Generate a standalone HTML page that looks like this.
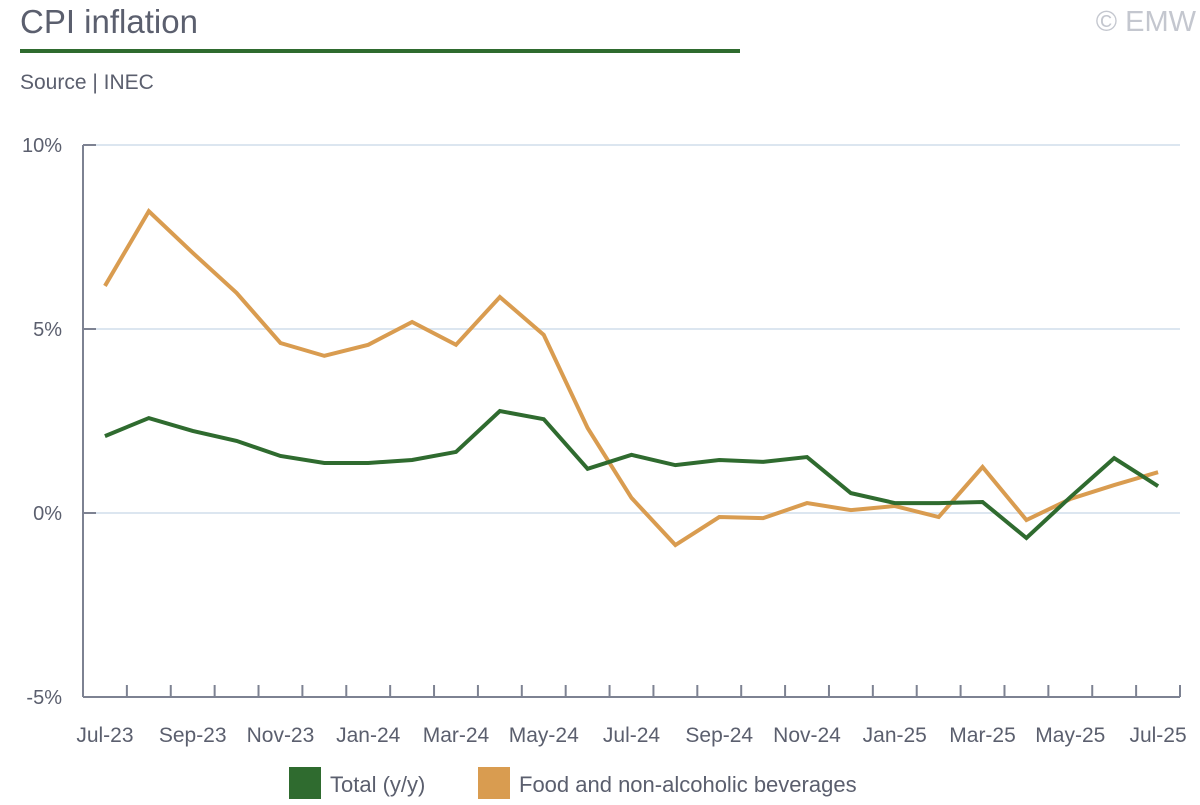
<!DOCTYPE html>
<html><head><meta charset="utf-8"><style>
body{margin:0;background:#fff;font-family:"Liberation Sans",sans-serif;}
svg text{font-family:"Liberation Sans",sans-serif;}
</style></head><body>
<svg id="c" width="1200" height="800" viewBox="0 0 1200 800">
<text x="20" y="33" font-size="33" fill="#5b5f6e">CPI inflation</text>
<rect x="20" y="49" width="720" height="4" fill="#2f6b2f"/>
<text x="20" y="89" font-size="21" fill="#5b5f6e">Source | INEC</text>
<text x="1196" y="31" font-size="29" fill="#c4c7cf" text-anchor="end">© EMW</text>
<g id="grid"></g><g id="axes"></g><g id="series"></g>
<g>
<rect x="289" y="767" width="32" height="32" fill="#2f6b2f"/>
<text x="330" y="792" font-size="22" fill="#5b5f6e">Total (y/y)</text>
<rect x="478" y="767" width="32" height="32" fill="#d99c50"/>
<text x="519" y="792" font-size="22" fill="#5b5f6e">Food and non-alcoholic beverages</text>
</g>
</svg>
<script>
const months=["Jul-23","Aug-23","Sep-23","Oct-23","Nov-23","Dec-23","Jan-24","Feb-24","Mar-24","Apr-24","May-24","Jun-24","Jul-24","Aug-24","Sep-24","Oct-24","Nov-24","Dec-24","Jan-25","Feb-25","Mar-25","Apr-25","May-25","Jun-25","Jul-25"];
const totalValues=[2.09,2.58,2.23,1.96,1.55,1.36,1.36,1.44,1.66,2.77,2.55,1.2,1.58,1.3,1.44,1.39,1.52,0.54,0.27,0.27,0.3,-0.68,0.43,1.49,0.73];
const foodValues=[6.17,8.2,7.07,5.98,4.62,4.27,4.57,5.19,4.57,5.87,4.84,2.31,0.41,-0.87,-0.11,-0.14,0.27,0.08,0.19,-0.11,1.25,-0.19,0.38,0.76,1.11];
const yTicks=[10,5,0,-5];
const yTickLabels=["10%","5%","0%","-5%"];
const NS="http://www.w3.org/2000/svg";
const L=83,R=1180,T=145,B=697,yMin=-5,yMax=10;
const band=(R-L)/months.length;
function xs(i){return L+band*(i+0.5);}
function ys(v){return B-(v-yMin)/(yMax-yMin)*(B-T);}
function mk(tag,attrs,parent){const e=document.createElementNS(NS,tag);for(const k in attrs)e.setAttribute(k,attrs[k]);parent.appendChild(e);return e;}
const grid=document.getElementById('grid'),axes=document.getElementById('axes'),series=document.getElementById('series');
yTicks.forEach((v,i)=>{
  if(v!==yMin){const g=mk('line',{x1:L,x2:R,y1:ys(v),y2:ys(v),stroke:'#dce6f0','stroke-width':2},grid);
  
  }
  const tk=mk('line',{x1:L,x2:L+13,y1:ys(v),y2:ys(v),stroke:'#7d8292','stroke-width':2},axes);
  
  
  const t=mk('text',{x:62,y:ys(v)+7,'font-size':20,fill:'#5b5f6e','text-anchor':'end'},axes);
  t.textContent=yTickLabels[i];
  
  
});
const ya=mk('line',{x1:L,x2:L,y1:T,y2:B,stroke:'#7d8292','stroke-width':2},axes);


const xa=mk('line',{x1:L,x2:R,y1:B,y2:B,stroke:'#7d8292','stroke-width':2},axes);


for(let i=1;i<=months.length;i++){
  const tk=mk('line',{x1:L+band*i,x2:L+band*i,y1:B-12,y2:B,stroke:'#7d8292','stroke-width':2},axes);
  
  
}
months.forEach((m,i)=>{if(i%2)return;
  const t=mk('text',{x:xs(i),y:742,'font-size':21,fill:'#5b5f6e','text-anchor':'middle'},axes);
  t.textContent=m;
  
  
});
function line(vals,color,name){
  const p=mk('polyline',{points:vals.map((v,i)=>xs(i)+','+ys(v)).join(' '),fill:'none',stroke:color,'stroke-width':4,'stroke-linejoin':'miter'},series);
  
  
}
line(foodValues,'#d99c50','food-line');
line(totalValues,'#2f6b2f','total-line');
</script>
</body></html>
